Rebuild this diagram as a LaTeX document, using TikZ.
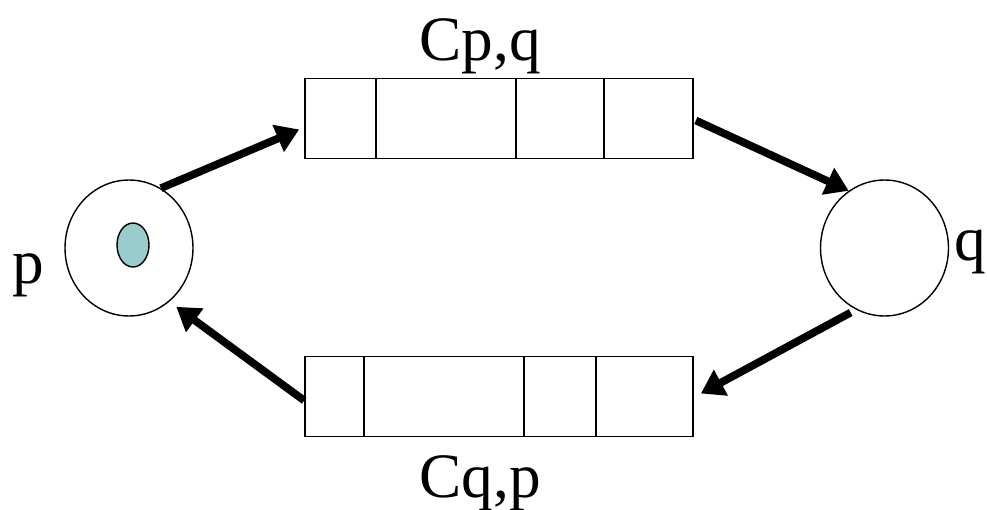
\documentclass[tikz,border=0pt]{standalone}
\usepackage{fontspec}
\setmainfont{Liberation Serif}
\usetikzlibrary{shapes,arrows.meta,positioning,calc}
\definecolor{tokencol}{RGB}{153,204,204}

\begin{document}
\begin{tikzpicture}[x=0.02cm, y=-0.02cm,
  proc/.style={draw, ellipse, line width=0.8pt, minimum width=2.56cm, minimum height=2.72cm, inner sep=0pt},
  chan/.style={draw, rectangle, line width=1pt, minimum width=7.76cm, minimum height=1.6cm, inner sep=0pt},
  flow/.style={-{Triangle[length=13pt,width=16pt]}, line width=4.4pt},
  lbl/.style={anchor=base, font=\fontsize{36}{40}\selectfont}]
  \useasboundingbox (0,0) rectangle (987,510);

  % the two processes
  \node[proc] (p) at (129,248) {};
  \node[proc] (q) at (884.5,248) {};
  \node[draw, ellipse, line width=0.8pt, fill=tokencol, minimum width=0.64cm, minimum height=0.88cm, inner sep=0pt] (token) at ($(p.center)+(4,-3)$) {};

  % the two channels
  \node[chan] (cpq) at (499,118.5) {};
  \node[chan] (cqp) at (499,396.5) {};
  \foreach \d in {72,212,300}
    \draw[line width=1pt] ($(cpq.north west)+(\d,0)$) -- ($(cpq.south west)+(\d,0)$);
  \foreach \d in {60,220,292}
    \draw[line width=1pt] ($(cqp.north west)+(\d,0)$) -- ($(cqp.south west)+(\d,0)$);

  % labels
  \node[lbl] (lblp) at ($(p.west)+(-36,35)$) {p};
  \node[lbl] (lblq) at ($(q.east)+(21,12)$) {q};
  \node[lbl] (lblpq) at ($(cpq.north)+(-19,-17)$) {Cp,q};
  \node[lbl] (lblqp) at ($(cqp.south)+(-19,60)$) {Cq,p};

  % messages going round
  \draw[flow] (p.62) -- ($(cpq.west)+(-5,11)$);
  \draw[flow] ($(cpq.east)+(2,2)$) -- (q.122);
  \draw[flow] ($(q.240)+(0,6)$) -- ($(cqp.east)+(7,-3)$);
  \draw[flow] ($(cqp.west)+(0,4)$) -- ($(p.-52)+(6,6)$);
\end{tikzpicture}
\end{document}
